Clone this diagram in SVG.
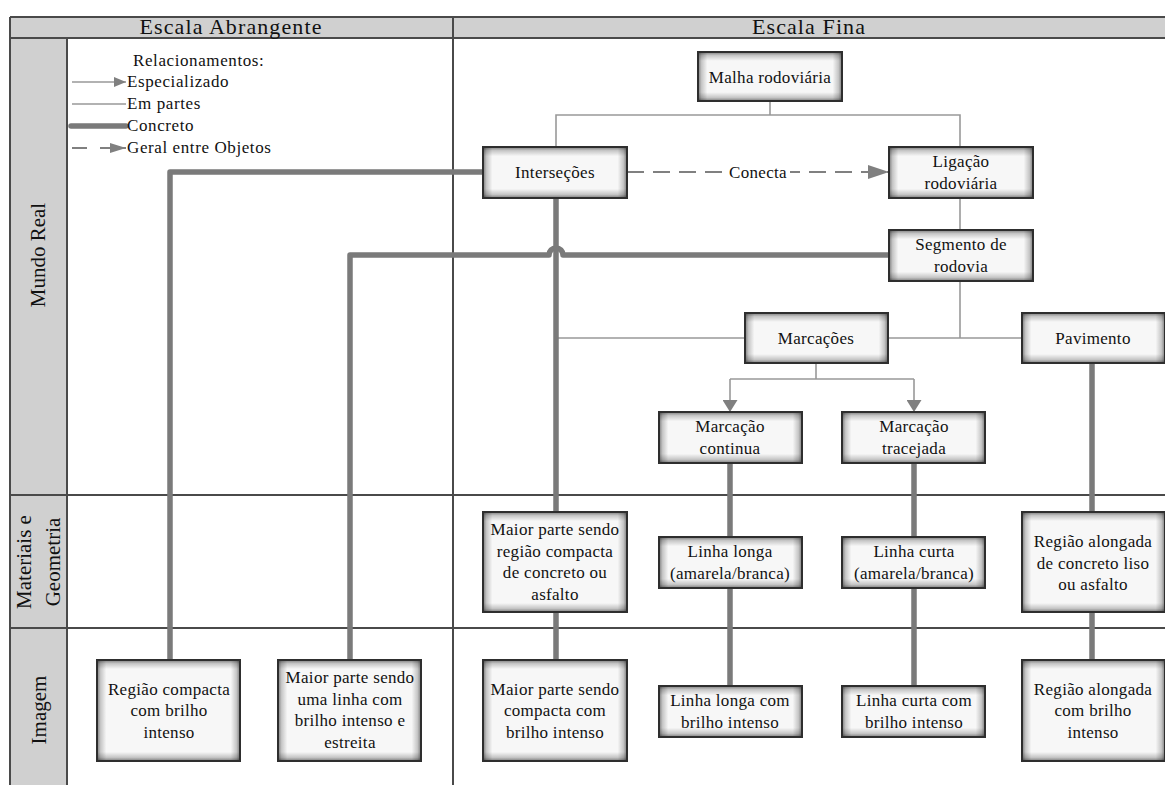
<svg xmlns="http://www.w3.org/2000/svg" width="1165" height="785" viewBox="0 0 1165 785">
<defs>
  <linearGradient id="gH" x1="0" y1="0" x2="1" y2="0">
    <stop offset="0" stop-color="#000" stop-opacity="0.5"/>
    <stop offset="0.025" stop-color="#000" stop-opacity="0.2"/>
    <stop offset="0.065" stop-color="#000" stop-opacity="0"/>
    <stop offset="0.935" stop-color="#000" stop-opacity="0"/>
    <stop offset="0.975" stop-color="#000" stop-opacity="0.2"/>
    <stop offset="1" stop-color="#000" stop-opacity="0.5"/>
  </linearGradient>
  <linearGradient id="gV50" x1="0" y1="0" x2="0" y2="1">
    <stop offset="0" stop-color="#000" stop-opacity="0.5"/>
    <stop offset="0.07" stop-color="#000" stop-opacity="0.2"/>
    <stop offset="0.18" stop-color="#000" stop-opacity="0"/>
    <stop offset="0.82" stop-color="#000" stop-opacity="0"/>
    <stop offset="0.93" stop-color="#000" stop-opacity="0.2"/>
    <stop offset="1" stop-color="#000" stop-opacity="0.5"/>
  </linearGradient>
  <linearGradient id="gV100" x1="0" y1="0" x2="0" y2="1">
    <stop offset="0" stop-color="#000" stop-opacity="0.5"/>
    <stop offset="0.036" stop-color="#000" stop-opacity="0.2"/>
    <stop offset="0.09" stop-color="#000" stop-opacity="0"/>
    <stop offset="0.91" stop-color="#000" stop-opacity="0"/>
    <stop offset="0.964" stop-color="#000" stop-opacity="0.2"/>
    <stop offset="1" stop-color="#000" stop-opacity="0.5"/>
  </linearGradient>
  <marker id="arrS" viewBox="0 0 12 10" refX="12" refY="5" markerUnits="userSpaceOnUse" markerWidth="12" markerHeight="10" orient="auto">
    <path d="M0,0 L12,5 L0,10 Z" fill="#808080"/>
  </marker>
  <marker id="arrM" viewBox="0 0 12 15" refX="12" refY="7.5" markerUnits="userSpaceOnUse" markerWidth="12" markerHeight="15" orient="auto">
    <path d="M0,0 L12,7.5 L0,15 Z" fill="#808080"/>
  </marker>
  <marker id="arrL" viewBox="0 0 21 14" refX="21" refY="7" markerUnits="userSpaceOnUse" markerWidth="21" markerHeight="14" orient="auto">
    <path d="M0,0 L21,7 L0,14 Z" fill="#808080"/>
  </marker>
  <marker id="arrG" viewBox="0 0 16 10" refX="16" refY="5" markerUnits="userSpaceOnUse" markerWidth="16" markerHeight="10" orient="auto">
    <path d="M0,0 L16,5 L0,10 Z" fill="#808080"/>
  </marker>
</defs>
<style>
  text { font-family: "Liberation Serif", "Times New Roman", serif; fill: #111; }
  .hdr { font-size: 22px; letter-spacing: 1.1px; text-anchor: middle; }
  .row { font-size: 21px; text-anchor: middle; }
  .lg { font-size: 17px; letter-spacing: 0.6px; }
  .nt { font-size: 17px; letter-spacing: 0.3px; text-anchor: middle; }
  .box { fill: #f7f7f7; stroke: none; }
  .sh { fill: url(#gH); stroke: none; }
  .sv5 { fill: url(#gV50); stroke: none; }
  .sv10 { fill: url(#gV100); stroke: none; }
  .bd { fill: none; stroke: #2e2e2e; stroke-width: 2; }
  .grid { stroke: #4a4a4a; stroke-width: 2; fill: none; }
  .thin { stroke: #999; stroke-width: 1.6; fill: none; }
  .thick { stroke: #7a7a7a; stroke-width: 5.5; fill: none; stroke-linejoin: round; }
  .dash { stroke: #808080; stroke-width: 2; fill: none; stroke-dasharray: 17 9; }
</style>
<rect width="1165" height="785" fill="#fff"/>

<g id="table">
  <rect x="10" y="17" width="1165" height="21" fill="#d0d0d0"/>
  <rect x="10" y="38" width="57" height="760" fill="#d0d0d0"/>
  <line class="grid" x1="10" y1="17" x2="1165" y2="17"/>
  <line class="grid" x1="10" y1="38" x2="1165" y2="38"/>
  <line class="grid" x1="10" y1="17" x2="10" y2="785"/>
  <line class="grid" x1="67" y1="38" x2="67" y2="785"/>
  <line class="grid" x1="453" y1="17" x2="453" y2="785"/>
  <line class="grid" x1="10" y1="495" x2="1165" y2="495"/>
  <line class="grid" x1="10" y1="628" x2="1165" y2="628"/>
  <text class="hdr" x="231" y="34">Escala Abrangente</text>
  <text class="hdr" x="809" y="34">Escala Fina</text>
  <text class="row" transform="translate(45,255) rotate(-90)">Mundo Real</text>
  <text class="row" transform="translate(31,562) rotate(-90)">Materiais e</text>
  <text class="row" transform="translate(60,562) rotate(-90)">Geometria</text>
  <text class="row" transform="translate(46,710) rotate(-90)">Imagem</text>
</g>

<g id="legend">
  <text class="lg" x="133" y="66">Relacionamentos:</text>
  <line class="thin" x1="72" y1="82" x2="126" y2="82" marker-end="url(#arrS)"/>
  <text class="lg" x="127" y="87">Especializado</text>
  <line class="thin" x1="72" y1="104" x2="126" y2="104"/>
  <text class="lg" x="127" y="109">Em partes</text>
  <line class="thick" x1="71" y1="126" x2="126" y2="126" stroke-linecap="round"/>
  <text class="lg" x="127" y="131">Concreto</text>
  <line x1="72" y1="148" x2="87" y2="148" stroke="#808080" stroke-width="2"/>
  <line x1="100" y1="148" x2="126" y2="148" stroke="#808080" stroke-width="2" marker-end="url(#arrG)"/>
  <text class="lg" x="127" y="153">Geral entre Objetos</text>
</g>

<g id="connectors">
  <path class="thin" d="M770,101 V115 M556,147 V115 H960 V147"/>
  <path class="thin" d="M960,198 V230"/>
  <path class="thin" d="M960,281 V338 M558,338 H745 M888,338 H1022"/>
  <path class="thin" d="M816,363 V379 M730,379 H914"/>
  <line class="thin" x1="730" y1="379" x2="730" y2="412" marker-end="url(#arrM)"/>
  <line class="thin" x1="914" y1="379" x2="914" y2="412" marker-end="url(#arrM)"/>
  <line class="dash" x1="627" y1="172" x2="889" y2="172" marker-end="url(#arrL)"/>
  <rect x="726" y="162" width="64" height="20" fill="#fff"/>
  <text class="nt" x="758" y="178">Conecta</text>
  <path class="thick" d="M483,172 H170 V660"/>
  <path class="thick" d="M889,255 H563 A7,7 0 0 0 549,255 H350 V660"/>
  <path class="thick" d="M556,198 V512 M556,612 V660"/>
  <path class="thick" d="M730,463 V537 M730,588 V686"/>
  <path class="thick" d="M914,463 V537 M914,588 V686"/>
  <path class="thick" d="M1092,363 V512 M1092,612 V660"/>
</g>

<g id="n-malha"><rect class="box" x="698" y="52" width="144" height="49"/><rect class="sh" x="698" y="52" width="144" height="49"/><rect class="sv5" x="698" y="52" width="144" height="49"/><rect class="bd" x="698" y="52" width="144" height="49"/>
  <text class="nt" x="770" y="82.5">Malha rodoviária</text></g>
<g id="n-intersecoes"><rect class="box" x="483" y="147" width="144" height="51"/><rect class="sh" x="483" y="147" width="144" height="51"/><rect class="sv5" x="483" y="147" width="144" height="51"/><rect class="bd" x="483" y="147" width="144" height="51"/>
  <text class="nt" x="555" y="178">Interseções</text></g>
<g id="n-ligacao"><rect class="box" x="889" y="147" width="144" height="51"/><rect class="sh" x="889" y="147" width="144" height="51"/><rect class="sv5" x="889" y="147" width="144" height="51"/><rect class="bd" x="889" y="147" width="144" height="51"/>
  <text class="nt" x="961" y="167">Ligação</text><text class="nt" x="961" y="189">rodoviária</text></g>
<g id="n-segmento"><rect class="box" x="889" y="230" width="144" height="51"/><rect class="sh" x="889" y="230" width="144" height="51"/><rect class="sv5" x="889" y="230" width="144" height="51"/><rect class="bd" x="889" y="230" width="144" height="51"/>
  <text class="nt" x="961" y="250">Segmento de</text><text class="nt" x="961" y="272">rodovia</text></g>
<g id="n-marcacoes"><rect class="box" x="745" y="313" width="143" height="50"/><rect class="sh" x="745" y="313" width="143" height="50"/><rect class="sv5" x="745" y="313" width="143" height="50"/><rect class="bd" x="745" y="313" width="143" height="50"/>
  <text class="nt" x="816" y="343.5">Marcações</text></g>
<g id="n-pavimento"><rect class="box" x="1022" y="313" width="143" height="50"/><rect class="sh" x="1022" y="313" width="143" height="50"/><rect class="sv5" x="1022" y="313" width="143" height="50"/><rect class="bd" x="1022" y="313" width="143" height="50"/>
  <text class="nt" x="1093" y="343.5">Pavimento</text></g>
<g id="n-continua"><rect class="box" x="659" y="412" width="143" height="51"/><rect class="sh" x="659" y="412" width="143" height="51"/><rect class="sv5" x="659" y="412" width="143" height="51"/><rect class="bd" x="659" y="412" width="143" height="51"/>
  <text class="nt" x="730" y="432">Marcação</text><text class="nt" x="730" y="454">continua</text></g>
<g id="n-tracejada"><rect class="box" x="842" y="412" width="143" height="51"/><rect class="sh" x="842" y="412" width="143" height="51"/><rect class="sv5" x="842" y="412" width="143" height="51"/><rect class="bd" x="842" y="412" width="143" height="51"/>
  <text class="nt" x="914" y="432">Marcação</text><text class="nt" x="914" y="454">tracejada</text></g>

<g id="n-mat-compacta"><rect class="box" x="483" y="512" width="144" height="100"/><rect class="sh" x="483" y="512" width="144" height="100"/><rect class="sv10" x="483" y="512" width="144" height="100"/><rect class="bd" x="483" y="512" width="144" height="100"/>
  <text class="nt" x="555" y="535">Maior parte sendo</text><text class="nt" x="555" y="557">região compacta</text><text class="nt" x="555" y="578">de concreto ou</text><text class="nt" x="555" y="600">asfalto</text></g>
<g id="n-mat-longa"><rect class="box" x="659" y="537" width="143" height="51"/><rect class="sh" x="659" y="537" width="143" height="51"/><rect class="sv5" x="659" y="537" width="143" height="51"/><rect class="bd" x="659" y="537" width="143" height="51"/>
  <text class="nt" x="730" y="557">Linha longa</text><text class="nt" x="730" y="579">(amarela/branca)</text></g>
<g id="n-mat-curta"><rect class="box" x="842" y="537" width="143" height="51"/><rect class="sh" x="842" y="537" width="143" height="51"/><rect class="sv5" x="842" y="537" width="143" height="51"/><rect class="bd" x="842" y="537" width="143" height="51"/>
  <text class="nt" x="914" y="557">Linha curta</text><text class="nt" x="914" y="579">(amarela/branca)</text></g>
<g id="n-mat-alongada"><rect class="box" x="1022" y="512" width="143" height="100"/><rect class="sh" x="1022" y="512" width="143" height="100"/><rect class="sv10" x="1022" y="512" width="143" height="100"/><rect class="bd" x="1022" y="512" width="143" height="100"/>
  <text class="nt" x="1093" y="547">Região alongada</text><text class="nt" x="1093" y="569">de concreto liso</text><text class="nt" x="1093" y="590">ou asfalto</text></g>

<g id="n-img-regiao"><rect class="box" x="97" y="660" width="143" height="101"/><rect class="sh" x="97" y="660" width="143" height="101"/><rect class="sv10" x="97" y="660" width="143" height="101"/><rect class="bd" x="97" y="660" width="143" height="101"/>
  <text class="nt" x="169" y="695">Região compacta</text><text class="nt" x="169" y="716">com brilho</text><text class="nt" x="169" y="738">intenso</text></g>
<g id="n-img-linha"><rect class="box" x="278" y="660" width="143" height="101"/><rect class="sh" x="278" y="660" width="143" height="101"/><rect class="sv10" x="278" y="660" width="143" height="101"/><rect class="bd" x="278" y="660" width="143" height="101"/>
  <text class="nt" x="350" y="683">Maior parte sendo</text><text class="nt" x="350" y="705">uma linha com</text><text class="nt" x="350" y="726">brilho intenso e</text><text class="nt" x="350" y="748">estreita</text></g>
<g id="n-img-compacta"><rect class="box" x="483" y="660" width="144" height="101"/><rect class="sh" x="483" y="660" width="144" height="101"/><rect class="sv10" x="483" y="660" width="144" height="101"/><rect class="bd" x="483" y="660" width="144" height="101"/>
  <text class="nt" x="555" y="695">Maior parte sendo</text><text class="nt" x="555" y="716">compacta com</text><text class="nt" x="555" y="738">brilho intenso</text></g>
<g id="n-img-longa"><rect class="box" x="659" y="686" width="143" height="51"/><rect class="sh" x="659" y="686" width="143" height="51"/><rect class="sv5" x="659" y="686" width="143" height="51"/><rect class="bd" x="659" y="686" width="143" height="51"/>
  <text class="nt" x="730" y="706">Linha longa com</text><text class="nt" x="730" y="728">brilho intenso</text></g>
<g id="n-img-curta"><rect class="box" x="842" y="686" width="143" height="51"/><rect class="sh" x="842" y="686" width="143" height="51"/><rect class="sv5" x="842" y="686" width="143" height="51"/><rect class="bd" x="842" y="686" width="143" height="51"/>
  <text class="nt" x="914" y="706">Linha curta com</text><text class="nt" x="914" y="728">brilho intenso</text></g>
<g id="n-img-alongada"><rect class="box" x="1022" y="660" width="143" height="101"/><rect class="sh" x="1022" y="660" width="143" height="101"/><rect class="sv10" x="1022" y="660" width="143" height="101"/><rect class="bd" x="1022" y="660" width="143" height="101"/>
  <text class="nt" x="1093" y="695">Região alongada</text><text class="nt" x="1093" y="716">com brilho</text><text class="nt" x="1093" y="738">intenso</text></g>
</svg>
